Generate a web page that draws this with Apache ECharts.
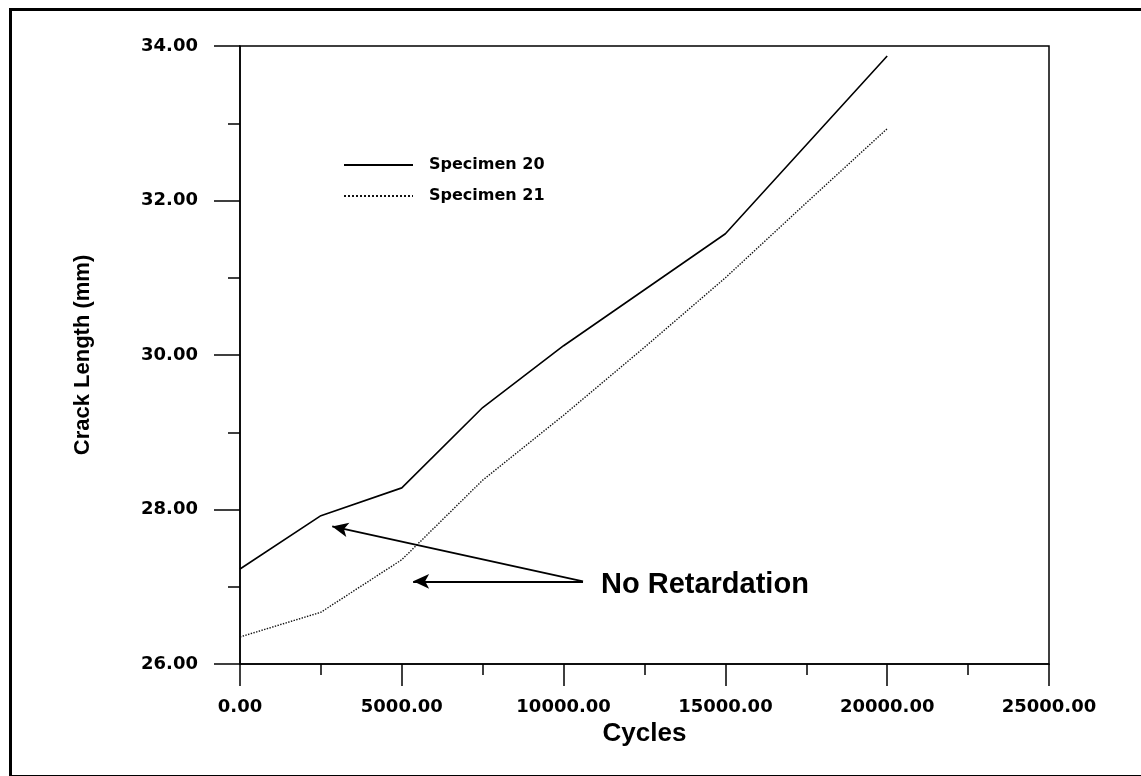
<!DOCTYPE html>
<html>
<head>
<meta charset="utf-8">
<script src="https://cdn.jsdelivr.net/npm/echarts@6/dist/echarts.min.js"></script>
<style>
html,body{margin:0;padding:0;background:#fff;}
#main{width:1141px;height:776px;}
</style>
</head>
<body>
<div id="main"></div>
<script>
// ---- data ----
var cycles20 = [0, 2500, 5000, 7500, 10000, 15000, 20000];
var crack20  = [27.23, 27.92, 28.28, 29.32, 30.12, 31.57, 33.87];
var cycles21 = [0, 2500, 5000, 7500, 10000, 12500, 15000, 17500, 20000];
var crack21  = [26.35, 26.67, 27.35, 28.38, 29.22, 30.1, 31.0, 31.97, 32.93];
var seriesNames = ['Specimen 20', 'Specimen 21'];
var annotationText = 'No Retardation';
// arrow annotations in data space: [start, tip]
var arrowFrom = [10600, 27.07];
var arrowTips = [[2850, 27.78], [5350, 27.07]];

function pairs(xs, ys){ return xs.map(function(x,i){ return [x, ys[i]]; }); }

var chart = echarts.init(document.getElementById('main'));
var tickFont = {fontFamily:'DejaVu Sans', fontWeight:'bold', fontSize:18, color:'#000'};

chart.setOption({
  animation:false,
  backgroundColor:'#fff',
  grid:{left:240, right:92, top:46, bottom:112, show:true, borderColor:'#000', borderWidth:1.5, containLabel:false},
  legend:{
    orient:'vertical', left:338, top:152,
    itemWidth:69, itemHeight:14, itemGap:15,
    itemStyle:{opacity:0},
    textStyle:{fontFamily:'DejaVu Sans', fontWeight:'bold', fontSize:16, color:'#000', padding:[0,0,0,11]},
    data:seriesNames
  },
  xAxis:{
    type:'value', min:0, max:25000, interval:5000,
    name:'Cycles', nameLocation:'middle', nameGap:52,
    nameTextStyle:{fontFamily:'Liberation Sans', fontWeight:'bold', fontSize:26, color:'#000'},
    axisLine:{show:true, lineStyle:{color:'#000', width:1.5}},
    axisTick:{show:true, length:22, lineStyle:{color:'#000', width:1.5}},
    minorTick:{show:true, splitNumber:2, length:11, lineStyle:{color:'#000', width:1.5}},
    splitLine:{show:false},
    axisLabel:Object.assign({margin:34, formatter:function(v){return v.toFixed(2);}}, tickFont)
  },
  yAxis:{
    type:'value', min:26, max:34, interval:2,
    name:'Crack Length (mm)', nameLocation:'middle', nameGap:146, nameRotate:90,
    nameTextStyle:{fontFamily:'Liberation Sans', fontWeight:'bold', fontSize:22, color:'#000'},
    axisLine:{show:true, lineStyle:{color:'#000', width:1.5}},
    axisTick:{show:true, length:26, lineStyle:{color:'#000', width:1.5}},
    minorTick:{show:true, splitNumber:2, length:12, lineStyle:{color:'#000', width:1.5}},
    splitLine:{show:false},
    axisLabel:Object.assign({margin:42, formatter:function(v){return v.toFixed(2);}}, tickFont)
  },
  graphic:[
    {type:'rect', left:8, top:7, shape:{width:1150, height:767}, style:{fill:'none', stroke:'#000', lineWidth:3}, silent:true, z:-1},
    {type:'text', left:601, top:570, style:{text:annotationText, font:'bold 29px "Liberation Sans"', fill:'#000'}}
  ],
  series:[
    {
      name:seriesNames[0], type:'line', data:pairs(cycles20, crack20),
      symbol:'none', lineStyle:{color:'#000', width:1.6, type:'solid'}, itemStyle:{color:'#000'},
      markLine:{
        silent:true, symbol:['none','arrow'], symbolSize:[11,16],
        lineStyle:{color:'#000', width:1.8, type:'solid'}, label:{show:false},
        data: arrowTips.map(function(t){ return [{coord:arrowFrom}, {coord:t}]; })
      }
    },
    {
      name:seriesNames[1], type:'line', data:pairs(cycles21, crack21),
      symbol:'none', lineStyle:{color:'#111', width:1.4, type:'dotted'}, itemStyle:{color:'#111'}
    }
  ]
});
</script>
</body>
</html>
